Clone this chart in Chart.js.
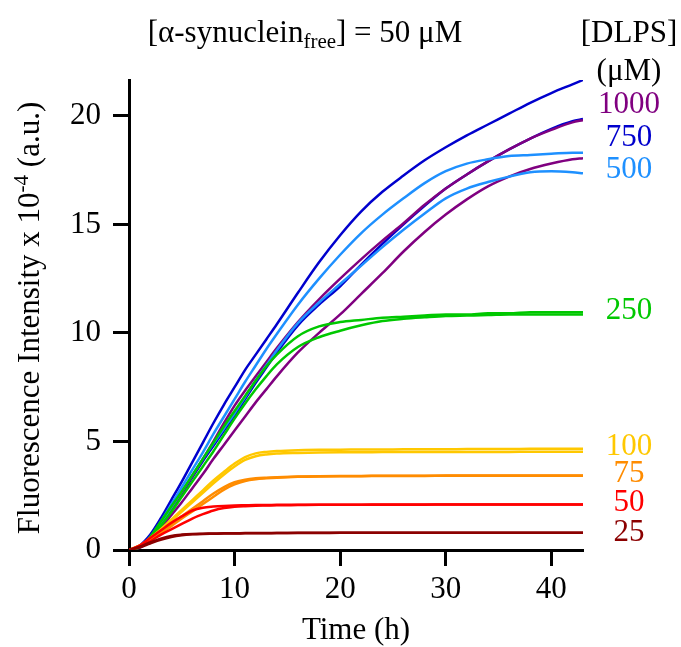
<!DOCTYPE html>
<html><head><meta charset="utf-8">
<script src="https://cdn.jsdelivr.net/npm/chart.js@4.4.1/dist/chart.umd.min.js"></script>
<style>html,body{margin:0;padding:0;background:#fff}#wrap{width:681px;height:647px;position:relative}</style>
</head><body><div id="wrap"><canvas id="c" width="681" height="647"></canvas></div>
<script>
// Time points (h)
const times = [0,1,2,3,4,5,6,7,8,9,10,11,12,13,14,16,18,20,22,24,26,28,30,32,34,36,38,40,42,43];
// Fluorescence intensity x 10^-4 (a.u.), two replicates per DLPS concentration
const dlps1000a = [0,0.15,0.55,1.2,1.9,2.65,3.4,4.2,5.0,5.85,6.65,7.35,8.0,8.65,9.3,10.5,11.55,12.5,13.4,14.25,15.05,15.9,16.65,17.3,17.9,18.45,18.95,19.35,19.7,19.8];
const dlps1000b = [0,0.1,0.45,1.0,1.6,2.2,2.85,3.5,4.2,4.85,5.5,6.15,6.8,7.4,8.0,9.1,10.0,10.85,11.8,12.75,13.75,14.65,15.45,16.15,16.75,17.2,17.55,17.8,18.0,18.05];
const dlps750a = [0,0.2,0.7,1.45,2.3,3.15,4.05,4.95,5.85,6.7,7.5,8.3,9.0,9.7,10.4,11.85,13.25,14.5,15.6,16.5,17.25,17.95,18.55,19.1,19.6,20.1,20.6,21.05,21.45,21.65];
const dlps750b = [0,0.15,0.55,1.2,1.9,2.6,3.35,4.1,4.8,5.5,6.2,6.95,7.7,8.4,9.1,10.35,11.3,12.15,13.15,14.1,15.0,15.85,16.65,17.3,17.9,18.45,18.95,19.4,19.75,19.85];
const dlps500a = [0,0.15,0.6,1.3,2.1,2.9,3.7,4.5,5.35,6.15,6.95,7.75,8.5,9.25,9.95,11.3,12.5,13.6,14.6,15.45,16.2,16.9,17.45,17.8,18.0,18.15,18.2,18.25,18.3,18.3];
const dlps500b = [0,0.15,0.55,1.2,1.95,2.7,3.45,4.2,4.9,5.6,6.3,7.05,7.8,8.5,9.2,10.45,11.4,12.25,13.1,13.95,14.75,15.5,16.2,16.65,16.95,17.2,17.4,17.45,17.4,17.35];
const dlps250a = [0,0.15,0.6,1.3,2.0,2.7,3.45,4.2,4.95,5.7,6.4,7.1,7.8,8.45,9.0,9.85,10.3,10.5,10.6,10.7,10.75,10.8,10.85,10.85,10.9,10.9,10.95,10.95,10.95,10.95];
const dlps250b = [0,0.12,0.5,1.1,1.75,2.45,3.15,3.85,4.55,5.3,6.05,6.75,7.4,8.0,8.55,9.35,9.8,10.1,10.35,10.55,10.65,10.72,10.78,10.8,10.82,10.85,10.85,10.85,10.85,10.85];
const dlps100a = [0,0.2,0.55,0.95,1.4,1.85,2.3,2.75,3.2,3.6,3.98,4.28,4.45,4.52,4.56,4.6,4.62,4.62,4.63,4.63,4.64,4.64,4.64,4.65,4.65,4.65,4.66,4.66,4.66,4.66];
const dlps100b = [0,0.18,0.5,0.9,1.33,1.77,2.2,2.63,3.07,3.48,3.85,4.15,4.32,4.4,4.44,4.47,4.49,4.5,4.5,4.51,4.51,4.51,4.52,4.52,4.52,4.52,4.53,4.53,4.53,4.53];
const dlps75a = [0,0.2,0.5,0.85,1.2,1.55,1.9,2.25,2.6,2.9,3.12,3.24,3.3,3.33,3.35,3.38,3.4,3.41,3.41,3.42,3.42,3.42,3.43,3.43,3.43,3.43,3.43,3.43,3.43,3.43];
const dlps75b = [0,0.17,0.45,0.78,1.1,1.45,1.78,2.12,2.45,2.78,3.02,3.18,3.26,3.3,3.33,3.37,3.39,3.4,3.4,3.41,3.41,3.41,3.42,3.42,3.42,3.42,3.42,3.42,3.42,3.42];
const dlps50a = [0,0.2,0.55,0.9,1.25,1.55,1.82,1.95,2.0,2.03,2.05,2.06,2.07,2.07,2.08,2.08,2.09,2.09,2.09,2.1,2.1,2.1,2.1,2.1,2.1,2.1,2.1,2.1,2.1,2.1];
const dlps50b = [0,0.15,0.4,0.7,0.95,1.2,1.45,1.65,1.82,1.93,1.99,2.02,2.04,2.05,2.06,2.07,2.08,2.08,2.09,2.09,2.09,2.09,2.1,2.1,2.1,2.1,2.1,2.1,2.1,2.1];
const dlps25a = [0,0.15,0.35,0.52,0.65,0.71,0.74,0.75,0.76,0.77,0.77,0.78,0.78,0.78,0.78,0.79,0.79,0.79,0.79,0.8,0.8,0.8,0.8,0.8,0.8,0.8,0.8,0.8,0.8,0.8];
const dlps25b = [0,0.12,0.3,0.47,0.6,0.68,0.72,0.74,0.75,0.76,0.76,0.77,0.77,0.77,0.78,0.78,0.78,0.79,0.79,0.79,0.79,0.79,0.79,0.8,0.8,0.8,0.8,0.8,0.8,0.8];

const concLabels = ['1000','750','500','250','100','75','50','25'];
// vertical anchor (in data units) of each concentration label
const concLabelAt = [20.5,19.0,17.5,11.0,4.74,3.5,2.16,0.81];
const xTicks = [0,10,20,30,40];
const yTicks = [0,5,10,15,20];

const colors = {
  '1000':'#800080','750':'#0000CD','500':'#1E90FF','250':'#00C800',
  '100':'#FFC800','75':'#FF8C00','50':'#FF0000','25':'#8B0000'
};
const seriesList = [
  ['25',dlps25a],['25',dlps25b],['50',dlps50a],['50',dlps50b],
  ['75',dlps75a],['75',dlps75b],['100',dlps100a],['100',dlps100b],
  ['250',dlps250a],['250',dlps250b],['500',dlps500a],['500',dlps500b],
  ['1000',dlps1000a],['1000',dlps1000b],['750',dlps750a],['750',dlps750b]
];

const FONT = '"Liberation Serif","Times New Roman",serif';
const FS = 31, FSS = 21;

const datasets = seriesList.map(([c,vals]) => ({
  label: c,
  data: times.map((t,i) => ({x:t, y:vals[i]})),
  borderColor: colors[c],
  borderWidth: 2.5,
  pointRadius: 0,
  fill: false,
  cubicInterpolationMode: 'monotone'
}));

const textPlugin = {
  id: 'texts',
  afterDraw(chart) {
    const ctx = chart.ctx;
    const ys = chart.scales.y;
    const xs = chart.scales.x;
    ctx.save();
    ctx.fillStyle = '#000';
    // Title
    const p1 = '[\u03b1-synuclein', p2 = 'free', p3 = '] = 50 \u03bcM';
    ctx.font = FS + 'px ' + FONT;
    const w1 = ctx.measureText(p1).width, w3 = ctx.measureText(p3).width;
    ctx.font = FSS + 'px ' + FONT;
    const w2 = ctx.measureText(p2).width;
    let x0 = 305 - (w1 + w2 + w3) / 2;
    ctx.textBaseline = 'alphabetic';
    ctx.textAlign = 'left';
    ctx.font = FS + 'px ' + FONT; ctx.fillText(p1, x0, 42);
    ctx.font = FSS + 'px ' + FONT; ctx.fillText(p2, x0 + w1, 48);
    ctx.font = FS + 'px ' + FONT; ctx.fillText(p3, x0 + w1 + w2, 42);
    // Legend header
    ctx.textAlign = 'center';
    ctx.fillText('[DLPS]', 629, 42);
    ctx.fillText('(\u03bcM)', 629, 80);
    // Concentration labels
    ctx.textBaseline = 'middle';
    concLabels.forEach((c, i) => {
      ctx.fillStyle = colors[c];
      ctx.fillText(c, 629, ys.getPixelForValue(concLabelAt[i]));
    });
    // X title
    ctx.fillStyle = '#000';
    ctx.textBaseline = 'alphabetic';
    ctx.fillText('Time (h)', (xs.left + xs.right) / 2, 639);
    // Y title (rotated)
    const q1 = 'Fluorescence Intensity x 10', q2 = '-4', q3 = ' (a.u.)';
    ctx.font = FS + 'px ' + FONT;
    const v1 = ctx.measureText(q1).width, v3 = ctx.measureText(q3).width;
    ctx.font = FSS + 'px ' + FONT;
    const v2 = ctx.measureText(q2).width;
    ctx.translate(39, 318);
    ctx.rotate(-Math.PI / 2);
    ctx.textAlign = 'left';
    let s0 = -(v1 + v2 + v3) / 2;
    ctx.font = FS + 'px ' + FONT; ctx.fillText(q1, s0, 0);
    ctx.font = FSS + 'px ' + FONT; ctx.fillText(q2, s0 + v1, -11);
    ctx.font = FS + 'px ' + FONT; ctx.fillText(q3, s0 + v1 + v2, 0);
    ctx.restore();
  }
};

new Chart(document.getElementById('c'), {
  type: 'line',
  data: { datasets },
  options: {
    responsive: false,
    animation: false,
    devicePixelRatio: 1,
    layout: { padding: { top: 80, right: 98, left: 0, bottom: 0 } },
    plugins: { legend: { display: false }, tooltip: { enabled: false } },
    scales: {
      x: {
        type: 'linear', min: 0, max: 43,
        afterFit(s) { s.height = 97; },
        afterBuildTicks(s) { s.ticks = xTicks.map(v => ({ value: v })); },
        ticks: { font: { family: FONT, size: FS }, color: '#000', padding: 5, maxRotation: 0, autoSkip: false },
        grid: { display: true, drawOnChartArea: false, drawTicks: true, tickLength: 16, tickWidth: 3, tickColor: '#000' },
        border: { display: true, color: '#000', width: 3 }
      },
      y: {
        type: 'linear', min: 0, max: 21.65,
        afterFit(s) { s.width = 129; },
        afterBuildTicks(s) { s.ticks = yTicks.map(v => ({ value: v })); },
        ticks: { font: { family: FONT, size: FS }, color: '#000', padding: 12, autoSkip: false },
        grid: { display: true, drawOnChartArea: false, drawTicks: true, tickLength: 16, tickWidth: 3, tickColor: '#000' },
        border: { display: true, color: '#000', width: 3 }
      }
    }
  },
  plugins: [textPlugin]
});
</script>
</body></html>
